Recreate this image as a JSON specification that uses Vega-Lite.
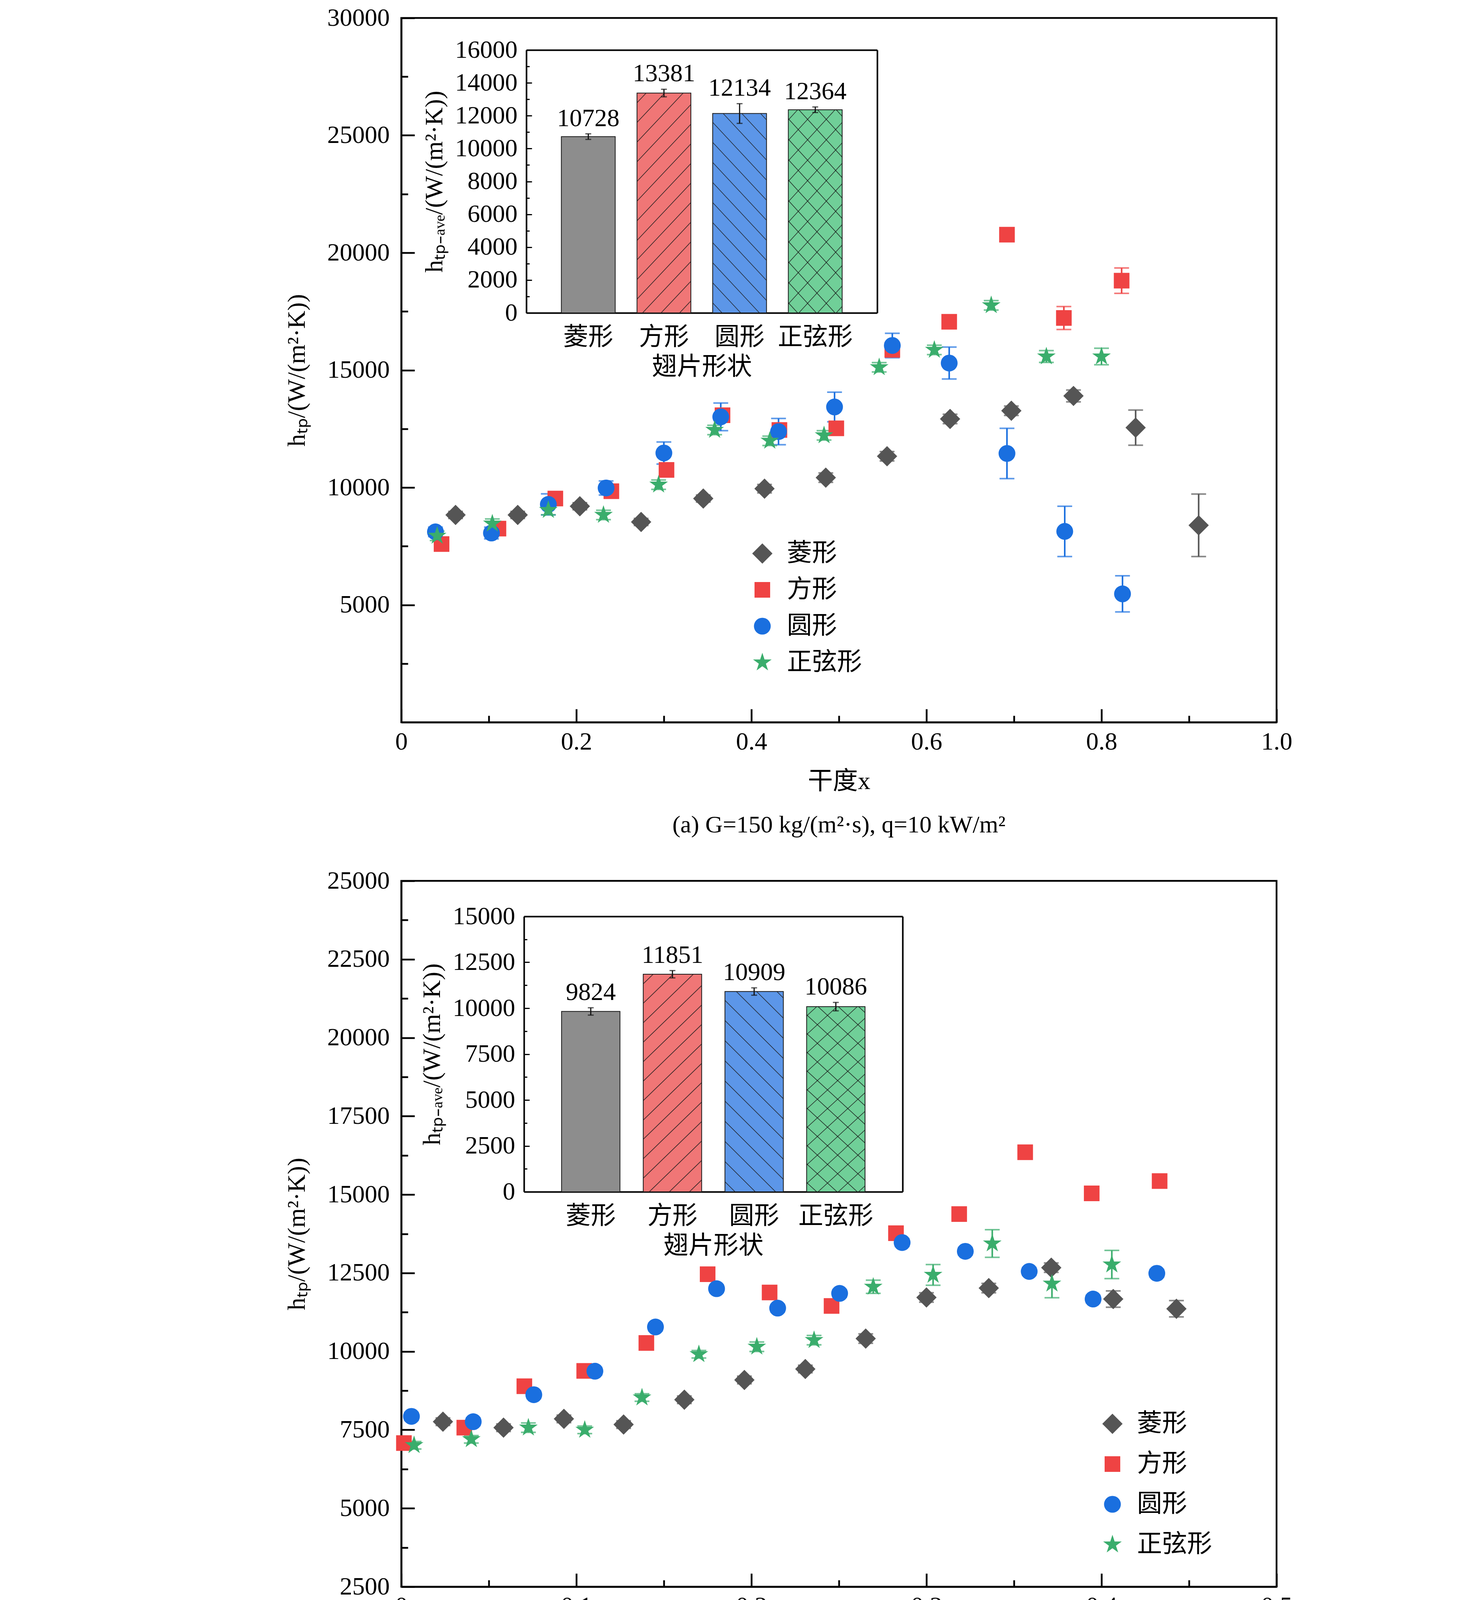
{
"$schema": "https://vega.github.io/schema/vega-lite/v6.json",
"padding": {"left": 725, "top": 11, "right": 20, "bottom": 20},
"background": "white",
"datasets": {
"pa": [
{"s":"菱形","x":0.062,"y":8830,"e":150},{"s":"菱形","x":0.133,"y":8830,"e":150},{"s":"菱形","x":0.204,"y":9200,"e":150},{"s":"菱形","x":0.274,"y":8530,"e":150},{"s":"菱形","x":0.345,"y":9530,"e":150},{"s":"菱形","x":0.415,"y":9950,"e":180},{"s":"菱形","x":0.485,"y":10420,"e":200},{"s":"菱形","x":0.555,"y":11330,"e":200},{"s":"菱形","x":0.627,"y":12920,"e":200},{"s":"菱形","x":0.697,"y":13270,"e":200},{"s":"菱形","x":0.768,"y":13900,"e":250},{"s":"菱形","x":0.839,"y":12550,"e":750},{"s":"菱形","x":0.911,"y":8390,"e":1330},
{"s":"方形","x":0.046,"y":7590,"e":150},{"s":"方形","x":0.111,"y":8250,"e":200},{"s":"方形","x":0.176,"y":9530,"e":200},{"s":"方形","x":0.240,"y":9840,"e":200},{"s":"方形","x":0.303,"y":10750,"e":200},{"s":"方形","x":0.367,"y":13080,"e":250},{"s":"方形","x":0.432,"y":12450,"e":250},{"s":"方形","x":0.497,"y":12520,"e":200},{"s":"方形","x":0.561,"y":15860,"e":250},{"s":"方形","x":0.626,"y":17060,"e":250},{"s":"方形","x":0.692,"y":20770,"e":250},{"s":"方形","x":0.757,"y":17220,"e":490},{"s":"方形","x":0.823,"y":18810,"e":540},
{"s":"圆形","x":0.039,"y":8110,"e":200},{"s":"圆形","x":0.103,"y":8060,"e":250},{"s":"圆形","x":0.168,"y":9280,"e":450},{"s":"圆形","x":0.234,"y":9980,"e":300},{"s":"圆形","x":0.300,"y":11470,"e":470},{"s":"圆形","x":0.365,"y":13010,"e":590},{"s":"圆形","x":0.431,"y":12380,"e":560},{"s":"圆形","x":0.495,"y":13430,"e":630},{"s":"圆形","x":0.561,"y":16050,"e":520},{"s":"圆形","x":0.626,"y":15300,"e":680},{"s":"圆形","x":0.692,"y":11450,"e":1070},{"s":"圆形","x":0.758,"y":8130,"e":1070},{"s":"圆形","x":0.824,"y":5470,"e":770},
{"s":"正弦形","x":0.041,"y":7940,"e":200},{"s":"正弦形","x":0.104,"y":8460,"e":200},{"s":"正弦形","x":0.168,"y":9040,"e":200},{"s":"正弦形","x":0.231,"y":8830,"e":200},{"s":"正弦形","x":0.294,"y":10120,"e":200},{"s":"正弦形","x":0.358,"y":12450,"e":200},{"s":"正弦形","x":0.421,"y":11990,"e":200},{"s":"正弦形","x":0.483,"y":12220,"e":200},{"s":"正弦形","x":0.546,"y":15120,"e":200},{"s":"正弦形","x":0.609,"y":15860,"e":200},{"s":"正弦形","x":0.674,"y":17760,"e":200},{"s":"正弦形","x":0.737,"y":15580,"e":250},{"s":"正弦形","x":0.800,"y":15580,"e":350}
],
"pb": [
{"s":"菱形","x":0.0238,"y":7760,"e":120},{"s":"菱形","x":0.0584,"y":7570,"e":120},{"s":"菱形","x":0.0929,"y":7850,"e":120},{"s":"菱形","x":0.127,"y":7670,"e":120},{"s":"菱形","x":0.1617,"y":8460,"e":120},{"s":"菱形","x":0.196,"y":9090,"e":120},{"s":"菱形","x":0.2308,"y":9440,"e":120},{"s":"菱形","x":0.2653,"y":10410,"e":150},{"s":"菱形","x":0.300,"y":11720,"e":150},{"s":"菱形","x":0.3356,"y":12020,"e":150},{"s":"菱形","x":0.3713,"y":12670,"e":150},{"s":"菱形","x":0.4067,"y":11670,"e":260},{"s":"菱形","x":0.4428,"y":11360,"e":260},
{"s":"方形","x":0.0015,"y":7080,"e":120},{"s":"方形","x":0.036,"y":7570,"e":120},{"s":"方形","x":0.0703,"y":8890,"e":120},{"s":"方形","x":0.1045,"y":9380,"e":120},{"s":"方形","x":0.140,"y":10270,"e":120},{"s":"方形","x":0.175,"y":12460,"e":120},{"s":"方形","x":0.2104,"y":11880,"e":120},{"s":"方形","x":0.2458,"y":11450,"e":120},{"s":"方形","x":0.2826,"y":13770,"e":120},{"s":"方形","x":0.3187,"y":14380,"e":150},{"s":"方形","x":0.3564,"y":16350,"e":150},{"s":"方形","x":0.3944,"y":15040,"e":150},{"s":"方形","x":0.4332,"y":15430,"e":150},
{"s":"圆形","x":0.0058,"y":7930,"e":120},{"s":"圆形","x":0.0411,"y":7760,"e":120},{"s":"圆形","x":0.0757,"y":8620,"e":120},{"s":"圆形","x":0.1106,"y":9370,"e":120},{"s":"圆形","x":0.1452,"y":10780,"e":120},{"s":"圆形","x":0.1801,"y":12000,"e":120},{"s":"圆形","x":0.215,"y":11380,"e":120},{"s":"圆形","x":0.2504,"y":11850,"e":120},{"s":"圆形","x":0.2861,"y":13470,"e":120},{"s":"圆形","x":0.3222,"y":13190,"e":120},{"s":"圆形","x":0.3587,"y":12550,"e":120},{"s":"圆形","x":0.3952,"y":11670,"e":120},{"s":"圆形","x":0.4316,"y":12490,"e":120},
{"s":"正弦形","x":0.0073,"y":7010,"e":120},{"s":"正弦形","x":0.040,"y":7200,"e":120},{"s":"正弦形","x":0.0726,"y":7570,"e":150},{"s":"正弦形","x":0.1048,"y":7500,"e":120},{"s":"正弦形","x":0.1375,"y":8530,"e":120},{"s":"正弦形","x":0.170,"y":9910,"e":120},{"s":"正弦形","x":0.2031,"y":10150,"e":150},{"s":"正弦形","x":0.2358,"y":10360,"e":150},{"s":"正弦形","x":0.2696,"y":12060,"e":210},{"s":"正弦形","x":0.3038,"y":12440,"e":330},{"s":"正弦形","x":0.3376,"y":13440,"e":440},{"s":"正弦形","x":0.3717,"y":12160,"e":450},{"s":"正弦形","x":0.4059,"y":12770,"e":450}
],
"pc": [
{"s":"菱形","x":0.040,"y":10440,"e":600},{"s":"菱形","x":0.121,"y":10790,"e":940},{"s":"菱形","x":0.201,"y":11100,"e":1240},{"s":"菱形","x":0.283,"y":11450,"e":1490},{"s":"菱形","x":0.363,"y":13740,"e":2120},{"s":"菱形","x":0.445,"y":14690,"e":2690},{"s":"菱形","x":0.527,"y":16450,"e":2090},{"s":"菱形","x":0.608,"y":17270,"e":2030},{"s":"菱形","x":0.691,"y":18840,"e":1950},{"s":"菱形","x":0.773,"y":20000,"e":2010},{"s":"菱形","x":0.854,"y":24090,"e":2630},{"s":"菱形","x":0.939,"y":24340,"e":3950},
{"s":"方形","x":0.023,"y":10130,"e":300},{"s":"方形","x":0.104,"y":12860,"e":1780},{"s":"方形","x":0.184,"y":13620,"e":2170},{"s":"方形","x":0.264,"y":14560,"e":1870},{"s":"方形","x":0.345,"y":15600,"e":1840},{"s":"方形","x":0.427,"y":17550,"e":1700},{"s":"方形","x":0.511,"y":17360,"e":1040},{"s":"方形","x":0.595,"y":17520,"e":250},{"s":"方形","x":0.681,"y":19850,"e":300},{"s":"方形","x":0.768,"y":22420,"e":300},{"s":"方形","x":0.858,"y":24090,"e":470},{"s":"方形","x":0.953,"y":32240,"e":2400},
{"s":"圆形","x":0.062,"y":10570,"e":630},{"s":"圆形","x":0.144,"y":10220,"e":600},{"s":"圆形","x":0.224,"y":11320,"e":740},{"s":"圆形","x":0.305,"y":12360,"e":1070},{"s":"圆形","x":0.386,"y":14810,"e":1380},{"s":"圆形","x":0.468,"y":15320,"e":1380},{"s":"圆形","x":0.550,"y":16070,"e":1560},{"s":"圆形","x":0.633,"y":17300,"e":1980},{"s":"圆形","x":0.717,"y":20320,"e":2480},{"s":"圆形","x":0.802,"y":22580,"e":2610},{"s":"圆形","x":0.887,"y":22640,"e":1230},{"s":"圆形","x":0.973,"y":22580,"e":5020},
{"s":"正弦形","x":0.045,"y":11010,"e":300},{"s":"正弦形","x":0.125,"y":11290,"e":380},{"s":"正弦形","x":0.207,"y":11790,"e":380},{"s":"正弦形","x":0.288,"y":12010,"e":440},{"s":"正弦形","x":0.369,"y":14220,"e":470},{"s":"正弦形","x":0.451,"y":16790,"e":470},{"s":"正弦形","x":0.533,"y":18120,"e":380},{"s":"正弦形","x":0.615,"y":19970,"e":300},{"s":"正弦形","x":0.699,"y":23270,"e":720},{"s":"正弦形","x":0.783,"y":24440,"e":1120},{"s":"正弦形","x":0.868,"y":28210,"e":1370},{"s":"正弦形","x":0.954,"y":25250,"e":2770}
],
"ia": [{"s":"菱形","v":10728,"lo":10558,"hi":10898},{"s":"方形","v":13381,"lo":13151,"hi":13611},{"s":"圆形","v":12134,"lo":11534,"hi":12734},{"s":"正弦形","v":12364,"lo":12194,"hi":12534}],
"ib": [{"s":"菱形","v":9824,"lo":9624,"hi":10024},{"s":"方形","v":11851,"lo":11651,"hi":12051},{"s":"圆形","v":10909,"lo":10709,"hi":11109},{"s":"正弦形","v":10086,"lo":9856,"hi":10316}],
"ic": [{"s":"菱形","v":15532,"lo":13202,"hi":17862},{"s":"方形","v":19370,"lo":18150,"hi":20590},{"s":"圆形","v":15765,"lo":13675,"hi":17855},{"s":"正弦形","v":16896,"lo":16216,"hi":17576}]
},
"vconcat": [
{
"width": 2240, "height": 1803,
"title": {"text": "(a) G=150 kg/(m²·s), q=10 kW/m²", "orient": "bottom", "anchor": "middle", "frame": "group", "offset": 50},
"layer": [
{"data": {"name": "pa"},
"layer": [
{"mark": {"type": "errorbar", "ticks": true, "size": 38, "thickness": 4},
"encoding": {
"x": {"field": "x", "type": "quantitative", "scale": {"domain": [0, 1], "nice": false}, "axis": {"orient": "bottom", "values": [0.1,0.3,0.5,0.7,0.9], "tickSize": -17, "labels": false, "domain": false, "title": null}},
"y": {"field": "y", "type": "quantitative", "scale": {"domain": [0, 30000], "nice": false, "zero": false}, "axis": {"orient": "left", "values": [2500,7500,12500,17500,22500,27500], "tickSize": -17, "labels": false, "domain": false, "title": null}},
"yError": {"field": "e"},
"color": {"field": "s", "type": "nominal", "scale": {"domain": ["菱形","方形","圆形","正弦形"], "range": ["#555555","#ef4343","#1a6fdf","#3aad6c"]}, "legend": null}}},
{"mark": {"type": "point", "filled": true, "opacity": 1},
"encoding": {
"x": {"field": "x", "type": "quantitative", "scale": {"domain": [0, 1], "nice": false}, "axis": {"orient": "bottom", "values": [0,0.2,0.4,0.6,0.8,1], "tickSize": -34, "labelPadding": 52, "labelExpr": "datum.value == 0 ? '0' : format(datum.value, '.1f')", "title": "干度x", "titlePadding": 37}},
"y": {"field": "y", "type": "quantitative", "scale": {"domain": [0, 30000], "nice": false, "zero": false}, "axis": {"orient": "left", "values": [5000,10000,15000,20000,25000,30000], "format": "d", "tickSize": -34, "labelPadding": 64, "title": "hₜₚ/(W/(m²·K))", "titlePadding": 45}},
"color": {"field": "s", "type": "nominal", "scale": {"domain": ["菱形","方形","圆形","正弦形"], "range": ["#555555","#ef4343","#1a6fdf","#3aad6c"]}, "legend": {"orient": "none", "legendX": 892, "legendY": 1339, "title": null, "rowPadding": 29}},
"shape": {"field": "s", "type": "nominal", "scale": {"domain": ["菱形","方形","圆形","正弦形"], "range": ["diamond","square","circle","M0,-1L0.225,-0.309L0.951,-0.309L0.363,0.118L0.588,0.809L0,0.382L-0.588,0.809L-0.363,0.118L-0.951,-0.309L-0.225,-0.309Z"]}, "legend": {"orient": "none", "legendX": 892, "legendY": 1339, "title": null, "rowPadding": 29}},
"size": {"field": "s", "type": "nominal", "scale": {"type": "ordinal", "domain": ["菱形","方形","圆形","正弦形"], "range": [2700,1600,1850,2500]}, "legend": {"orient": "none", "legendX": 892, "legendY": 1339, "title": null, "rowPadding": 29}}}}
],
"resolve": {"axis": {"x": "independent", "y": "independent"}, "scale": {"color": "independent", "shape": "independent", "size": "independent"}}},
{"data": {"name": "ia"},
"layer": [
{"transform": [{"filter": "datum.s == '菱形'"}],
"mark": {"type": "bar", "fill": "#8d8d8d", "stroke": "#1a1a1a", "strokeWidth": 2},
"encoding": {
"x": {"field": "s", "type": "nominal", "sort": null, "scale": {"domain": ["菱形","方形","圆形","正弦形"], "range": [320,1218], "paddingInner": 0.288, "paddingOuter": 0.463}, "axis": {"orient": "bottom", "offset": -1048, "ticks": false, "labelPadding": 30, "labelAngle": 0, "title": "翅片形状", "titlePadding": 12, "domainWidth": 4}},
"y": {"field": "v", "type": "quantitative", "scale": {"domain": [0, 16000], "range": [755, 82], "nice": false}, "axis": {"orient": "left", "offset": -320, "values": [0,2000,4000,6000,8000,10000,12000,14000,16000], "format": "d", "tickSize": -14, "tickWidth": 3, "labelPadding": 37, "title": "hₜₚ₋ₐᵥₑ/(W/(m²·K))", "titlePadding": 20, "domainWidth": 4}}}},
{"transform": [{"filter": "datum.s == '方形'"}],
"mark": {"type": "bar", "stroke": "#1a1a1a", "strokeWidth": 2, "fill": {"gradient": "linear", "x1": 0, "y1": 0, "x2": 0.307, "y2": 1.18, "stops": [{"offset":0,"color":"#f07676"},{"offset":0.032,"color":"#f07676"},{"offset":0.035,"color":"#1a1a1a"},{"offset":0.038,"color":"#f07676"},{"offset":0.103,"color":"#f07676"},{"offset":0.106,"color":"#1a1a1a"},{"offset":0.109,"color":"#f07676"},{"offset":0.174,"color":"#f07676"},{"offset":0.177,"color":"#1a1a1a"},{"offset":0.180,"color":"#f07676"},{"offset":0.245,"color":"#f07676"},{"offset":0.248,"color":"#1a1a1a"},{"offset":0.251,"color":"#f07676"},{"offset":0.316,"color":"#f07676"},{"offset":0.319,"color":"#1a1a1a"},{"offset":0.322,"color":"#f07676"},{"offset":0.387,"color":"#f07676"},{"offset":0.390,"color":"#1a1a1a"},{"offset":0.393,"color":"#f07676"},{"offset":0.458,"color":"#f07676"},{"offset":0.461,"color":"#1a1a1a"},{"offset":0.464,"color":"#f07676"},{"offset":0.529,"color":"#f07676"},{"offset":0.532,"color":"#1a1a1a"},{"offset":0.535,"color":"#f07676"},{"offset":0.599,"color":"#f07676"},{"offset":0.602,"color":"#1a1a1a"},{"offset":0.605,"color":"#f07676"},{"offset":0.670,"color":"#f07676"},{"offset":0.673,"color":"#1a1a1a"},{"offset":0.676,"color":"#f07676"},{"offset":0.741,"color":"#f07676"},{"offset":0.744,"color":"#1a1a1a"},{"offset":0.747,"color":"#f07676"},{"offset":0.812,"color":"#f07676"},{"offset":0.815,"color":"#1a1a1a"},{"offset":0.818,"color":"#f07676"},{"offset":0.883,"color":"#f07676"},{"offset":0.886,"color":"#1a1a1a"},{"offset":0.889,"color":"#f07676"},{"offset":0.954,"color":"#f07676"},{"offset":0.957,"color":"#1a1a1a"},{"offset":0.960,"color":"#f07676"},{"offset":1,"color":"#f07676"}]}},
"encoding": {
"x": {"field": "s", "type": "nominal", "sort": null, "scale": {"domain": ["菱形","方形","圆形","正弦形"], "range": [320,1218], "paddingInner": 0.288, "paddingOuter": 0.463}, "axis": null},
"y": {"field": "v", "type": "quantitative", "scale": {"domain": [0, 16000], "range": [755, 82], "nice": false}, "axis": null}}},
{"transform": [{"filter": "datum.s == '圆形'"}],
"mark": {"type": "bar", "stroke": "#1a1a1a", "strokeWidth": 2, "fill": {"gradient": "linear", "x1": 0, "y1": 1, "x2": 0.345, "y2": -0.19, "stops": [{"offset":0,"color":"#5c96e8"},{"offset":0.036,"color":"#5c96e8"},{"offset":0.039,"color":"#1a1a1a"},{"offset":0.042,"color":"#5c96e8"},{"offset":0.114,"color":"#5c96e8"},{"offset":0.117,"color":"#1a1a1a"},{"offset":0.120,"color":"#5c96e8"},{"offset":0.192,"color":"#5c96e8"},{"offset":0.195,"color":"#1a1a1a"},{"offset":0.198,"color":"#5c96e8"},{"offset":0.270,"color":"#5c96e8"},{"offset":0.273,"color":"#1a1a1a"},{"offset":0.276,"color":"#5c96e8"},{"offset":0.348,"color":"#5c96e8"},{"offset":0.351,"color":"#1a1a1a"},{"offset":0.354,"color":"#5c96e8"},{"offset":0.426,"color":"#5c96e8"},{"offset":0.429,"color":"#1a1a1a"},{"offset":0.432,"color":"#5c96e8"},{"offset":0.504,"color":"#5c96e8"},{"offset":0.507,"color":"#1a1a1a"},{"offset":0.510,"color":"#5c96e8"},{"offset":0.582,"color":"#5c96e8"},{"offset":0.585,"color":"#1a1a1a"},{"offset":0.588,"color":"#5c96e8"},{"offset":0.660,"color":"#5c96e8"},{"offset":0.663,"color":"#1a1a1a"},{"offset":0.666,"color":"#5c96e8"},{"offset":0.738,"color":"#5c96e8"},{"offset":0.741,"color":"#1a1a1a"},{"offset":0.744,"color":"#5c96e8"},{"offset":0.816,"color":"#5c96e8"},{"offset":0.819,"color":"#1a1a1a"},{"offset":0.822,"color":"#5c96e8"},{"offset":0.894,"color":"#5c96e8"},{"offset":0.897,"color":"#1a1a1a"},{"offset":0.900,"color":"#5c96e8"},{"offset":0.972,"color":"#5c96e8"},{"offset":0.975,"color":"#1a1a1a"},{"offset":0.978,"color":"#5c96e8"},{"offset":1,"color":"#5c96e8"}]}},
"encoding": {
"x": {"field": "s", "type": "nominal", "sort": null, "scale": {"domain": ["菱形","方形","圆形","正弦形"], "range": [320,1218], "paddingInner": 0.288, "paddingOuter": 0.463}, "axis": null},
"y": {"field": "v", "type": "quantitative", "scale": {"domain": [0, 16000], "range": [755, 82], "nice": false}, "axis": null}}},
{"transform": [{"filter": "datum.s == '正弦形'"}],
"mark": {"type": "bar", "stroke": "#1a1a1a", "strokeWidth": 2, "fill": {"gradient": "linear", "x1": 0, "y1": 0, "x2": 0.345, "y2": 1.19, "stops": [{"offset":0,"color":"#70cf98"},{"offset":0.036,"color":"#70cf98"},{"offset":0.039,"color":"#1a1a1a"},{"offset":0.042,"color":"#70cf98"},{"offset":0.114,"color":"#70cf98"},{"offset":0.117,"color":"#1a1a1a"},{"offset":0.120,"color":"#70cf98"},{"offset":0.192,"color":"#70cf98"},{"offset":0.195,"color":"#1a1a1a"},{"offset":0.198,"color":"#70cf98"},{"offset":0.270,"color":"#70cf98"},{"offset":0.273,"color":"#1a1a1a"},{"offset":0.276,"color":"#70cf98"},{"offset":0.348,"color":"#70cf98"},{"offset":0.351,"color":"#1a1a1a"},{"offset":0.354,"color":"#70cf98"},{"offset":0.426,"color":"#70cf98"},{"offset":0.429,"color":"#1a1a1a"},{"offset":0.432,"color":"#70cf98"},{"offset":0.504,"color":"#70cf98"},{"offset":0.507,"color":"#1a1a1a"},{"offset":0.510,"color":"#70cf98"},{"offset":0.582,"color":"#70cf98"},{"offset":0.585,"color":"#1a1a1a"},{"offset":0.588,"color":"#70cf98"},{"offset":0.660,"color":"#70cf98"},{"offset":0.663,"color":"#1a1a1a"},{"offset":0.666,"color":"#70cf98"},{"offset":0.738,"color":"#70cf98"},{"offset":0.741,"color":"#1a1a1a"},{"offset":0.744,"color":"#70cf98"},{"offset":0.816,"color":"#70cf98"},{"offset":0.819,"color":"#1a1a1a"},{"offset":0.822,"color":"#70cf98"},{"offset":0.894,"color":"#70cf98"},{"offset":0.897,"color":"#1a1a1a"},{"offset":0.900,"color":"#70cf98"},{"offset":0.972,"color":"#70cf98"},{"offset":0.975,"color":"#1a1a1a"},{"offset":0.978,"color":"#70cf98"},{"offset":1,"color":"#70cf98"}]}},
"encoding": {
"x": {"field": "s", "type": "nominal", "sort": null, "scale": {"domain": ["菱形","方形","圆形","正弦形"], "range": [320,1218], "paddingInner": 0.288, "paddingOuter": 0.463}, "axis": null},
"y": {"field": "v", "type": "quantitative", "scale": {"domain": [0, 16000], "range": [755, 82], "nice": false}, "axis": null}}},
{"transform": [{"filter": "datum.s == '正弦形'"}],
"mark": {"type": "bar", "strokeWidth": 0, "fill": {"gradient": "linear", "x1": 0, "y1": 1, "x2": 0.345, "y2": -0.19, "stops": [{"offset":0,"color":"rgba(0,0,0,0)"},{"offset":0.036,"color":"rgba(0,0,0,0)"},{"offset":0.039,"color":"#1a1a1a"},{"offset":0.042,"color":"rgba(0,0,0,0)"},{"offset":0.114,"color":"rgba(0,0,0,0)"},{"offset":0.117,"color":"#1a1a1a"},{"offset":0.120,"color":"rgba(0,0,0,0)"},{"offset":0.192,"color":"rgba(0,0,0,0)"},{"offset":0.195,"color":"#1a1a1a"},{"offset":0.198,"color":"rgba(0,0,0,0)"},{"offset":0.270,"color":"rgba(0,0,0,0)"},{"offset":0.273,"color":"#1a1a1a"},{"offset":0.276,"color":"rgba(0,0,0,0)"},{"offset":0.348,"color":"rgba(0,0,0,0)"},{"offset":0.351,"color":"#1a1a1a"},{"offset":0.354,"color":"rgba(0,0,0,0)"},{"offset":0.426,"color":"rgba(0,0,0,0)"},{"offset":0.429,"color":"#1a1a1a"},{"offset":0.432,"color":"rgba(0,0,0,0)"},{"offset":0.504,"color":"rgba(0,0,0,0)"},{"offset":0.507,"color":"#1a1a1a"},{"offset":0.510,"color":"rgba(0,0,0,0)"},{"offset":0.582,"color":"rgba(0,0,0,0)"},{"offset":0.585,"color":"#1a1a1a"},{"offset":0.588,"color":"rgba(0,0,0,0)"},{"offset":0.660,"color":"rgba(0,0,0,0)"},{"offset":0.663,"color":"#1a1a1a"},{"offset":0.666,"color":"rgba(0,0,0,0)"},{"offset":0.738,"color":"rgba(0,0,0,0)"},{"offset":0.741,"color":"#1a1a1a"},{"offset":0.744,"color":"rgba(0,0,0,0)"},{"offset":0.816,"color":"rgba(0,0,0,0)"},{"offset":0.819,"color":"#1a1a1a"},{"offset":0.822,"color":"rgba(0,0,0,0)"},{"offset":0.894,"color":"rgba(0,0,0,0)"},{"offset":0.897,"color":"#1a1a1a"},{"offset":0.900,"color":"rgba(0,0,0,0)"},{"offset":0.972,"color":"rgba(0,0,0,0)"},{"offset":0.975,"color":"#1a1a1a"},{"offset":0.978,"color":"rgba(0,0,0,0)"},{"offset":1,"color":"rgba(0,0,0,0)"}]}},
"encoding": {
"x": {"field": "s", "type": "nominal", "sort": null, "scale": {"domain": ["菱形","方形","圆形","正弦形"], "range": [320,1218], "paddingInner": 0.288, "paddingOuter": 0.463}, "axis": null},
"y": {"field": "v", "type": "quantitative", "scale": {"domain": [0, 16000], "range": [755, 82], "nice": false}, "axis": null}}},
{"mark": {"type": "errorbar", "ticks": true, "size": 15, "thickness": 3, "color": "#111111"},
"encoding": {
"x": {"field": "s", "type": "nominal", "sort": null, "scale": {"domain": ["菱形","方形","圆形","正弦形"], "range": [320,1218], "paddingInner": 0.288, "paddingOuter": 0.463}, "axis": {"orient": "top", "offset": -82, "ticks": false, "labels": false, "title": null, "domainWidth": 4}},
"y": {"field": "lo", "type": "quantitative", "scale": {"domain": [0, 16000], "range": [755, 82], "nice": false}, "axis": {"orient": "right", "offset": -1022, "ticks": false, "labels": false, "title": null, "domainWidth": 4}},
"y2": {"field": "hi"}}},
{"mark": {"type": "text", "dy": -20, "fontSize": 64, "baseline": "alphabetic", "color": "black", "font": "Liberation Serif"},
"encoding": {
"x": {"field": "s", "type": "nominal", "sort": null, "scale": {"domain": ["菱形","方形","圆形","正弦形"], "range": [320,1218], "paddingInner": 0.288, "paddingOuter": 0.463}, "axis": null},
"y": {"field": "hi", "type": "quantitative", "scale": {"domain": [0, 16000], "range": [755, 82], "nice": false}, "axis": {"orient": "left", "offset": -320, "values": [1000,3000,5000,7000,9000,11000,13000,15000], "tickSize": -8, "tickWidth": 3, "labels": false, "domain": false, "title": null}},
"text": {"field": "v", "type": "quantitative", "format": "d"}}}
],
"resolve": {"axis": {"x": "independent", "y": "independent"}}}
],
"resolve": {"scale": {"x": "independent", "y": "independent"}}
},
{
"width": 2240, "height": 1807,
"title": {"text": "(b) G=300 kg/(m²·s), q=10 kW/m²", "orient": "bottom", "anchor": "middle", "frame": "group", "offset": 50},
"layer": [
{"data": {"name": "pb"},
"layer": [
{"mark": {"type": "errorbar", "ticks": true, "size": 38, "thickness": 4},
"encoding": {
"x": {"field": "x", "type": "quantitative", "scale": {"domain": [0, 0.5], "nice": false}, "axis": {"orient": "bottom", "values": [0.05,0.15,0.25,0.35,0.45], "tickSize": -17, "labels": false, "domain": false, "title": null}},
"y": {"field": "y", "type": "quantitative", "scale": {"domain": [2500, 25000], "nice": false, "zero": false}, "axis": {"orient": "left", "values": [3750,6250,8750,11250,13750,16250,18750,21250,23750], "tickSize": -17, "labels": false, "domain": false, "title": null}},
"yError": {"field": "e"},
"color": {"field": "s", "type": "nominal", "scale": {"domain": ["菱形","方形","圆形","正弦形"], "range": ["#555555","#ef4343","#1a6fdf","#3aad6c"]}, "legend": null}}},
{"mark": {"type": "point", "filled": true, "opacity": 1},
"encoding": {
"x": {"field": "x", "type": "quantitative", "scale": {"domain": [0, 0.5], "nice": false}, "axis": {"orient": "bottom", "values": [0,0.1,0.2,0.3,0.4,0.5], "tickSize": -34, "labelPadding": 52, "labelExpr": "datum.value == 0 ? '0' : format(datum.value, '.1f')", "title": "干度x", "titlePadding": 37}},
"y": {"field": "y", "type": "quantitative", "scale": {"domain": [2500, 25000], "nice": false, "zero": false}, "axis": {"orient": "left", "values": [2500,5000,7500,10000,12500,15000,17500,20000,22500,25000], "format": "d", "tickSize": -34, "labelPadding": 64, "title": "hₜₚ/(W/(m²·K))", "titlePadding": 45}},
"color": {"field": "s", "type": "nominal", "scale": {"domain": ["菱形","方形","圆形","正弦形"], "range": ["#555555","#ef4343","#1a6fdf","#3aad6c"]}, "legend": {"orient": "none", "legendX": 1788, "legendY": 1358, "title": null, "rowPadding": 39}},
"shape": {"field": "s", "type": "nominal", "scale": {"domain": ["菱形","方形","圆形","正弦形"], "range": ["diamond","square","circle","M0,-1L0.225,-0.309L0.951,-0.309L0.363,0.118L0.588,0.809L0,0.382L-0.588,0.809L-0.363,0.118L-0.951,-0.309L-0.225,-0.309Z"]}, "legend": {"orient": "none", "legendX": 1788, "legendY": 1358, "title": null, "rowPadding": 39}},
"size": {"field": "s", "type": "nominal", "scale": {"type": "ordinal", "domain": ["菱形","方形","圆形","正弦形"], "range": [2700,1600,1850,2500]}, "legend": {"orient": "none", "legendX": 1788, "legendY": 1358, "title": null, "rowPadding": 39}}}}
],
"resolve": {"axis": {"x": "independent", "y": "independent"}, "scale": {"color": "independent", "shape": "independent", "size": "independent"}}},
{"data": {"name": "ib"},
"layer": [
{"transform": [{"filter": "datum.s == '菱形'"}],
"mark": {"type": "bar", "fill": "#8d8d8d", "stroke": "#1a1a1a", "strokeWidth": 2},
"encoding": {
"x": {"field": "s", "type": "nominal", "sort": null, "scale": {"domain": ["菱形","方形","圆形","正弦形"], "range": [314,1283], "paddingInner": 0.285, "paddingOuter": 0.46}, "axis": {"orient": "bottom", "offset": -1011, "ticks": false, "labelPadding": 30, "labelAngle": 0, "title": "翅片形状", "titlePadding": 12, "domainWidth": 4}},
"y": {"field": "v", "type": "quantitative", "scale": {"domain": [0, 15000], "range": [796, 91], "nice": false}, "axis": {"orient": "left", "offset": -314, "values": [0,2500,5000,7500,10000,12500,15000], "format": "d", "tickSize": -14, "tickWidth": 3, "labelPadding": 37, "title": "hₜₚ₋ₐᵥₑ/(W/(m²·K))", "titlePadding": 20, "domainWidth": 4}}}},
{"transform": [{"filter": "datum.s == '方形'"}],
"mark": {"type": "bar", "stroke": "#1a1a1a", "strokeWidth": 2, "fill": {"gradient": "linear", "x1": 0, "y1": 0, "x2": 0.307, "y2": 1.18, "stops": [{"offset":0,"color":"#f07676"},{"offset":0.032,"color":"#f07676"},{"offset":0.035,"color":"#1a1a1a"},{"offset":0.038,"color":"#f07676"},{"offset":0.103,"color":"#f07676"},{"offset":0.106,"color":"#1a1a1a"},{"offset":0.109,"color":"#f07676"},{"offset":0.174,"color":"#f07676"},{"offset":0.177,"color":"#1a1a1a"},{"offset":0.180,"color":"#f07676"},{"offset":0.245,"color":"#f07676"},{"offset":0.248,"color":"#1a1a1a"},{"offset":0.251,"color":"#f07676"},{"offset":0.316,"color":"#f07676"},{"offset":0.319,"color":"#1a1a1a"},{"offset":0.322,"color":"#f07676"},{"offset":0.387,"color":"#f07676"},{"offset":0.390,"color":"#1a1a1a"},{"offset":0.393,"color":"#f07676"},{"offset":0.458,"color":"#f07676"},{"offset":0.461,"color":"#1a1a1a"},{"offset":0.464,"color":"#f07676"},{"offset":0.529,"color":"#f07676"},{"offset":0.532,"color":"#1a1a1a"},{"offset":0.535,"color":"#f07676"},{"offset":0.599,"color":"#f07676"},{"offset":0.602,"color":"#1a1a1a"},{"offset":0.605,"color":"#f07676"},{"offset":0.670,"color":"#f07676"},{"offset":0.673,"color":"#1a1a1a"},{"offset":0.676,"color":"#f07676"},{"offset":0.741,"color":"#f07676"},{"offset":0.744,"color":"#1a1a1a"},{"offset":0.747,"color":"#f07676"},{"offset":0.812,"color":"#f07676"},{"offset":0.815,"color":"#1a1a1a"},{"offset":0.818,"color":"#f07676"},{"offset":0.883,"color":"#f07676"},{"offset":0.886,"color":"#1a1a1a"},{"offset":0.889,"color":"#f07676"},{"offset":0.954,"color":"#f07676"},{"offset":0.957,"color":"#1a1a1a"},{"offset":0.960,"color":"#f07676"},{"offset":1,"color":"#f07676"}]}},
"encoding": {
"x": {"field": "s", "type": "nominal", "sort": null, "scale": {"domain": ["菱形","方形","圆形","正弦形"], "range": [314,1283], "paddingInner": 0.285, "paddingOuter": 0.46}, "axis": null},
"y": {"field": "v", "type": "quantitative", "scale": {"domain": [0, 15000], "range": [796, 91], "nice": false}, "axis": null}}},
{"transform": [{"filter": "datum.s == '圆形'"}],
"mark": {"type": "bar", "stroke": "#1a1a1a", "strokeWidth": 2, "fill": {"gradient": "linear", "x1": 0, "y1": 1, "x2": 0.345, "y2": -0.19, "stops": [{"offset":0,"color":"#5c96e8"},{"offset":0.036,"color":"#5c96e8"},{"offset":0.039,"color":"#1a1a1a"},{"offset":0.042,"color":"#5c96e8"},{"offset":0.114,"color":"#5c96e8"},{"offset":0.117,"color":"#1a1a1a"},{"offset":0.120,"color":"#5c96e8"},{"offset":0.192,"color":"#5c96e8"},{"offset":0.195,"color":"#1a1a1a"},{"offset":0.198,"color":"#5c96e8"},{"offset":0.270,"color":"#5c96e8"},{"offset":0.273,"color":"#1a1a1a"},{"offset":0.276,"color":"#5c96e8"},{"offset":0.348,"color":"#5c96e8"},{"offset":0.351,"color":"#1a1a1a"},{"offset":0.354,"color":"#5c96e8"},{"offset":0.426,"color":"#5c96e8"},{"offset":0.429,"color":"#1a1a1a"},{"offset":0.432,"color":"#5c96e8"},{"offset":0.504,"color":"#5c96e8"},{"offset":0.507,"color":"#1a1a1a"},{"offset":0.510,"color":"#5c96e8"},{"offset":0.582,"color":"#5c96e8"},{"offset":0.585,"color":"#1a1a1a"},{"offset":0.588,"color":"#5c96e8"},{"offset":0.660,"color":"#5c96e8"},{"offset":0.663,"color":"#1a1a1a"},{"offset":0.666,"color":"#5c96e8"},{"offset":0.738,"color":"#5c96e8"},{"offset":0.741,"color":"#1a1a1a"},{"offset":0.744,"color":"#5c96e8"},{"offset":0.816,"color":"#5c96e8"},{"offset":0.819,"color":"#1a1a1a"},{"offset":0.822,"color":"#5c96e8"},{"offset":0.894,"color":"#5c96e8"},{"offset":0.897,"color":"#1a1a1a"},{"offset":0.900,"color":"#5c96e8"},{"offset":0.972,"color":"#5c96e8"},{"offset":0.975,"color":"#1a1a1a"},{"offset":0.978,"color":"#5c96e8"},{"offset":1,"color":"#5c96e8"}]}},
"encoding": {
"x": {"field": "s", "type": "nominal", "sort": null, "scale": {"domain": ["菱形","方形","圆形","正弦形"], "range": [314,1283], "paddingInner": 0.285, "paddingOuter": 0.46}, "axis": null},
"y": {"field": "v", "type": "quantitative", "scale": {"domain": [0, 15000], "range": [796, 91], "nice": false}, "axis": null}}},
{"transform": [{"filter": "datum.s == '正弦形'"}],
"mark": {"type": "bar", "stroke": "#1a1a1a", "strokeWidth": 2, "fill": {"gradient": "linear", "x1": 0, "y1": 0, "x2": 0.345, "y2": 1.19, "stops": [{"offset":0,"color":"#70cf98"},{"offset":0.036,"color":"#70cf98"},{"offset":0.039,"color":"#1a1a1a"},{"offset":0.042,"color":"#70cf98"},{"offset":0.114,"color":"#70cf98"},{"offset":0.117,"color":"#1a1a1a"},{"offset":0.120,"color":"#70cf98"},{"offset":0.192,"color":"#70cf98"},{"offset":0.195,"color":"#1a1a1a"},{"offset":0.198,"color":"#70cf98"},{"offset":0.270,"color":"#70cf98"},{"offset":0.273,"color":"#1a1a1a"},{"offset":0.276,"color":"#70cf98"},{"offset":0.348,"color":"#70cf98"},{"offset":0.351,"color":"#1a1a1a"},{"offset":0.354,"color":"#70cf98"},{"offset":0.426,"color":"#70cf98"},{"offset":0.429,"color":"#1a1a1a"},{"offset":0.432,"color":"#70cf98"},{"offset":0.504,"color":"#70cf98"},{"offset":0.507,"color":"#1a1a1a"},{"offset":0.510,"color":"#70cf98"},{"offset":0.582,"color":"#70cf98"},{"offset":0.585,"color":"#1a1a1a"},{"offset":0.588,"color":"#70cf98"},{"offset":0.660,"color":"#70cf98"},{"offset":0.663,"color":"#1a1a1a"},{"offset":0.666,"color":"#70cf98"},{"offset":0.738,"color":"#70cf98"},{"offset":0.741,"color":"#1a1a1a"},{"offset":0.744,"color":"#70cf98"},{"offset":0.816,"color":"#70cf98"},{"offset":0.819,"color":"#1a1a1a"},{"offset":0.822,"color":"#70cf98"},{"offset":0.894,"color":"#70cf98"},{"offset":0.897,"color":"#1a1a1a"},{"offset":0.900,"color":"#70cf98"},{"offset":0.972,"color":"#70cf98"},{"offset":0.975,"color":"#1a1a1a"},{"offset":0.978,"color":"#70cf98"},{"offset":1,"color":"#70cf98"}]}},
"encoding": {
"x": {"field": "s", "type": "nominal", "sort": null, "scale": {"domain": ["菱形","方形","圆形","正弦形"], "range": [314,1283], "paddingInner": 0.285, "paddingOuter": 0.46}, "axis": null},
"y": {"field": "v", "type": "quantitative", "scale": {"domain": [0, 15000], "range": [796, 91], "nice": false}, "axis": null}}},
{"transform": [{"filter": "datum.s == '正弦形'"}],
"mark": {"type": "bar", "strokeWidth": 0, "fill": {"gradient": "linear", "x1": 0, "y1": 1, "x2": 0.345, "y2": -0.19, "stops": [{"offset":0,"color":"rgba(0,0,0,0)"},{"offset":0.036,"color":"rgba(0,0,0,0)"},{"offset":0.039,"color":"#1a1a1a"},{"offset":0.042,"color":"rgba(0,0,0,0)"},{"offset":0.114,"color":"rgba(0,0,0,0)"},{"offset":0.117,"color":"#1a1a1a"},{"offset":0.120,"color":"rgba(0,0,0,0)"},{"offset":0.192,"color":"rgba(0,0,0,0)"},{"offset":0.195,"color":"#1a1a1a"},{"offset":0.198,"color":"rgba(0,0,0,0)"},{"offset":0.270,"color":"rgba(0,0,0,0)"},{"offset":0.273,"color":"#1a1a1a"},{"offset":0.276,"color":"rgba(0,0,0,0)"},{"offset":0.348,"color":"rgba(0,0,0,0)"},{"offset":0.351,"color":"#1a1a1a"},{"offset":0.354,"color":"rgba(0,0,0,0)"},{"offset":0.426,"color":"rgba(0,0,0,0)"},{"offset":0.429,"color":"#1a1a1a"},{"offset":0.432,"color":"rgba(0,0,0,0)"},{"offset":0.504,"color":"rgba(0,0,0,0)"},{"offset":0.507,"color":"#1a1a1a"},{"offset":0.510,"color":"rgba(0,0,0,0)"},{"offset":0.582,"color":"rgba(0,0,0,0)"},{"offset":0.585,"color":"#1a1a1a"},{"offset":0.588,"color":"rgba(0,0,0,0)"},{"offset":0.660,"color":"rgba(0,0,0,0)"},{"offset":0.663,"color":"#1a1a1a"},{"offset":0.666,"color":"rgba(0,0,0,0)"},{"offset":0.738,"color":"rgba(0,0,0,0)"},{"offset":0.741,"color":"#1a1a1a"},{"offset":0.744,"color":"rgba(0,0,0,0)"},{"offset":0.816,"color":"rgba(0,0,0,0)"},{"offset":0.819,"color":"#1a1a1a"},{"offset":0.822,"color":"rgba(0,0,0,0)"},{"offset":0.894,"color":"rgba(0,0,0,0)"},{"offset":0.897,"color":"#1a1a1a"},{"offset":0.900,"color":"rgba(0,0,0,0)"},{"offset":0.972,"color":"rgba(0,0,0,0)"},{"offset":0.975,"color":"#1a1a1a"},{"offset":0.978,"color":"rgba(0,0,0,0)"},{"offset":1,"color":"rgba(0,0,0,0)"}]}},
"encoding": {
"x": {"field": "s", "type": "nominal", "sort": null, "scale": {"domain": ["菱形","方形","圆形","正弦形"], "range": [314,1283], "paddingInner": 0.285, "paddingOuter": 0.46}, "axis": null},
"y": {"field": "v", "type": "quantitative", "scale": {"domain": [0, 15000], "range": [796, 91], "nice": false}, "axis": null}}},
{"mark": {"type": "errorbar", "ticks": true, "size": 15, "thickness": 3, "color": "#111111"},
"encoding": {
"x": {"field": "s", "type": "nominal", "sort": null, "scale": {"domain": ["菱形","方形","圆形","正弦形"], "range": [314,1283], "paddingInner": 0.285, "paddingOuter": 0.46}, "axis": {"orient": "top", "offset": -91, "ticks": false, "labels": false, "title": null, "domainWidth": 4}},
"y": {"field": "lo", "type": "quantitative", "scale": {"domain": [0, 15000], "range": [796, 91], "nice": false}, "axis": {"orient": "right", "offset": -957, "ticks": false, "labels": false, "title": null, "domainWidth": 4}},
"y2": {"field": "hi"}}},
{"mark": {"type": "text", "dy": -20, "fontSize": 64, "baseline": "alphabetic", "color": "black", "font": "Liberation Serif"},
"encoding": {
"x": {"field": "s", "type": "nominal", "sort": null, "scale": {"domain": ["菱形","方形","圆形","正弦形"], "range": [314,1283], "paddingInner": 0.285, "paddingOuter": 0.46}, "axis": null},
"y": {"field": "hi", "type": "quantitative", "scale": {"domain": [0, 15000], "range": [796, 91], "nice": false}, "axis": {"orient": "left", "offset": -314, "values": [1250,3750,6250,8750,11250,13750], "tickSize": -8, "tickWidth": 3, "labels": false, "domain": false, "title": null}},
"text": {"field": "v", "type": "quantitative", "format": "d"}}}
],
"resolve": {"axis": {"x": "independent", "y": "independent"}}}
],
"resolve": {"scale": {"x": "independent", "y": "independent"}}
},
{
"width": 2240, "height": 1805,
"title": {"text": "(c) G=300 kg/(m²·s), q=25 kW/m²", "orient": "bottom", "anchor": "middle", "frame": "group", "offset": 50},
"layer": [
{"data": {"name": "pc"},
"layer": [
{"mark": {"type": "errorbar", "ticks": true, "size": 38, "thickness": 4},
"encoding": {
"x": {"field": "x", "type": "quantitative", "scale": {"domain": [0, 1], "nice": false}, "axis": {"orient": "bottom", "values": [0.1,0.3,0.5,0.7,0.9], "tickSize": -17, "labels": false, "domain": false, "title": null}},
"y": {"field": "y", "type": "quantitative", "scale": {"domain": [0, 40000], "nice": false, "zero": false}, "axis": {"orient": "left", "values": [2500,7500,12500,17500,22500,27500,32500,37500], "tickSize": -17, "labels": false, "domain": false, "title": null}},
"yError": {"field": "e"},
"color": {"field": "s", "type": "nominal", "scale": {"domain": ["菱形","方形","圆形","正弦形"], "range": ["#555555","#ef4343","#1a6fdf","#3aad6c"]}, "legend": null}}},
{"mark": {"type": "point", "filled": true, "opacity": 1},
"encoding": {
"x": {"field": "x", "type": "quantitative", "scale": {"domain": [0, 1], "nice": false}, "axis": {"orient": "bottom", "values": [0,0.2,0.4,0.6,0.8,1], "tickSize": -34, "labelPadding": 52, "labelExpr": "datum.value == 0 ? '0' : format(datum.value, '.1f')", "title": "干度x", "titlePadding": 37}},
"y": {"field": "y", "type": "quantitative", "scale": {"domain": [0, 40000], "nice": false, "zero": false}, "axis": {"orient": "left", "values": [5000,10000,15000,20000,25000,30000,35000,40000], "format": "d", "tickSize": -34, "labelPadding": 64, "title": "hₜₚ/(W/(m²·K))", "titlePadding": 45}},
"color": {"field": "s", "type": "nominal", "scale": {"domain": ["菱形","方形","圆形","正弦形"], "range": ["#555555","#ef4343","#1a6fdf","#3aad6c"]}, "legend": {"orient": "none", "legendX": 1754, "legendY": 1343, "title": null, "rowPadding": 39}},
"shape": {"field": "s", "type": "nominal", "scale": {"domain": ["菱形","方形","圆形","正弦形"], "range": ["diamond","square","circle","M0,-1L0.225,-0.309L0.951,-0.309L0.363,0.118L0.588,0.809L0,0.382L-0.588,0.809L-0.363,0.118L-0.951,-0.309L-0.225,-0.309Z"]}, "legend": {"orient": "none", "legendX": 1754, "legendY": 1343, "title": null, "rowPadding": 39}},
"size": {"field": "s", "type": "nominal", "scale": {"type": "ordinal", "domain": ["菱形","方形","圆形","正弦形"], "range": [2700,1600,1850,2500]}, "legend": {"orient": "none", "legendX": 1754, "legendY": 1343, "title": null, "rowPadding": 39}}}}
],
"resolve": {"axis": {"x": "independent", "y": "independent"}, "scale": {"color": "independent", "shape": "independent", "size": "independent"}}},
{"data": {"name": "ic"},
"layer": [
{"transform": [{"filter": "datum.s == '菱形'"}],
"mark": {"type": "bar", "fill": "#8d8d8d", "stroke": "#1a1a1a", "strokeWidth": 2},
"encoding": {
"x": {"field": "s", "type": "nominal", "sort": null, "scale": {"domain": ["菱形","方形","圆形","正弦形"], "range": [317,1289], "paddingInner": 0.285, "paddingOuter": 0.46}, "axis": {"orient": "bottom", "offset": -1020, "ticks": false, "labelPadding": 30, "labelAngle": 0, "title": "翅片形状", "titlePadding": 12, "domainWidth": 4}},
"y": {"field": "v", "type": "quantitative", "scale": {"domain": [0, 25000], "range": [785, 56], "nice": false}, "axis": {"orient": "left", "offset": -317, "values": [0,5000,10000,15000,20000,25000], "format": "d", "tickSize": -14, "tickWidth": 3, "labelPadding": 37, "title": "hₜₚ₋ₐᵥₑ/(W/(m²·K))", "titlePadding": 20, "domainWidth": 4}}}},
{"transform": [{"filter": "datum.s == '方形'"}],
"mark": {"type": "bar", "stroke": "#1a1a1a", "strokeWidth": 2, "fill": {"gradient": "linear", "x1": 0, "y1": 0, "x2": 0.307, "y2": 1.18, "stops": [{"offset":0,"color":"#f07676"},{"offset":0.032,"color":"#f07676"},{"offset":0.035,"color":"#1a1a1a"},{"offset":0.038,"color":"#f07676"},{"offset":0.103,"color":"#f07676"},{"offset":0.106,"color":"#1a1a1a"},{"offset":0.109,"color":"#f07676"},{"offset":0.174,"color":"#f07676"},{"offset":0.177,"color":"#1a1a1a"},{"offset":0.180,"color":"#f07676"},{"offset":0.245,"color":"#f07676"},{"offset":0.248,"color":"#1a1a1a"},{"offset":0.251,"color":"#f07676"},{"offset":0.316,"color":"#f07676"},{"offset":0.319,"color":"#1a1a1a"},{"offset":0.322,"color":"#f07676"},{"offset":0.387,"color":"#f07676"},{"offset":0.390,"color":"#1a1a1a"},{"offset":0.393,"color":"#f07676"},{"offset":0.458,"color":"#f07676"},{"offset":0.461,"color":"#1a1a1a"},{"offset":0.464,"color":"#f07676"},{"offset":0.529,"color":"#f07676"},{"offset":0.532,"color":"#1a1a1a"},{"offset":0.535,"color":"#f07676"},{"offset":0.599,"color":"#f07676"},{"offset":0.602,"color":"#1a1a1a"},{"offset":0.605,"color":"#f07676"},{"offset":0.670,"color":"#f07676"},{"offset":0.673,"color":"#1a1a1a"},{"offset":0.676,"color":"#f07676"},{"offset":0.741,"color":"#f07676"},{"offset":0.744,"color":"#1a1a1a"},{"offset":0.747,"color":"#f07676"},{"offset":0.812,"color":"#f07676"},{"offset":0.815,"color":"#1a1a1a"},{"offset":0.818,"color":"#f07676"},{"offset":0.883,"color":"#f07676"},{"offset":0.886,"color":"#1a1a1a"},{"offset":0.889,"color":"#f07676"},{"offset":0.954,"color":"#f07676"},{"offset":0.957,"color":"#1a1a1a"},{"offset":0.960,"color":"#f07676"},{"offset":1,"color":"#f07676"}]}},
"encoding": {
"x": {"field": "s", "type": "nominal", "sort": null, "scale": {"domain": ["菱形","方形","圆形","正弦形"], "range": [317,1289], "paddingInner": 0.285, "paddingOuter": 0.46}, "axis": null},
"y": {"field": "v", "type": "quantitative", "scale": {"domain": [0, 25000], "range": [785, 56], "nice": false}, "axis": null}}},
{"transform": [{"filter": "datum.s == '圆形'"}],
"mark": {"type": "bar", "stroke": "#1a1a1a", "strokeWidth": 2, "fill": {"gradient": "linear", "x1": 0, "y1": 1, "x2": 0.345, "y2": -0.19, "stops": [{"offset":0,"color":"#5c96e8"},{"offset":0.036,"color":"#5c96e8"},{"offset":0.039,"color":"#1a1a1a"},{"offset":0.042,"color":"#5c96e8"},{"offset":0.114,"color":"#5c96e8"},{"offset":0.117,"color":"#1a1a1a"},{"offset":0.120,"color":"#5c96e8"},{"offset":0.192,"color":"#5c96e8"},{"offset":0.195,"color":"#1a1a1a"},{"offset":0.198,"color":"#5c96e8"},{"offset":0.270,"color":"#5c96e8"},{"offset":0.273,"color":"#1a1a1a"},{"offset":0.276,"color":"#5c96e8"},{"offset":0.348,"color":"#5c96e8"},{"offset":0.351,"color":"#1a1a1a"},{"offset":0.354,"color":"#5c96e8"},{"offset":0.426,"color":"#5c96e8"},{"offset":0.429,"color":"#1a1a1a"},{"offset":0.432,"color":"#5c96e8"},{"offset":0.504,"color":"#5c96e8"},{"offset":0.507,"color":"#1a1a1a"},{"offset":0.510,"color":"#5c96e8"},{"offset":0.582,"color":"#5c96e8"},{"offset":0.585,"color":"#1a1a1a"},{"offset":0.588,"color":"#5c96e8"},{"offset":0.660,"color":"#5c96e8"},{"offset":0.663,"color":"#1a1a1a"},{"offset":0.666,"color":"#5c96e8"},{"offset":0.738,"color":"#5c96e8"},{"offset":0.741,"color":"#1a1a1a"},{"offset":0.744,"color":"#5c96e8"},{"offset":0.816,"color":"#5c96e8"},{"offset":0.819,"color":"#1a1a1a"},{"offset":0.822,"color":"#5c96e8"},{"offset":0.894,"color":"#5c96e8"},{"offset":0.897,"color":"#1a1a1a"},{"offset":0.900,"color":"#5c96e8"},{"offset":0.972,"color":"#5c96e8"},{"offset":0.975,"color":"#1a1a1a"},{"offset":0.978,"color":"#5c96e8"},{"offset":1,"color":"#5c96e8"}]}},
"encoding": {
"x": {"field": "s", "type": "nominal", "sort": null, "scale": {"domain": ["菱形","方形","圆形","正弦形"], "range": [317,1289], "paddingInner": 0.285, "paddingOuter": 0.46}, "axis": null},
"y": {"field": "v", "type": "quantitative", "scale": {"domain": [0, 25000], "range": [785, 56], "nice": false}, "axis": null}}},
{"transform": [{"filter": "datum.s == '正弦形'"}],
"mark": {"type": "bar", "stroke": "#1a1a1a", "strokeWidth": 2, "fill": {"gradient": "linear", "x1": 0, "y1": 0, "x2": 0.345, "y2": 1.19, "stops": [{"offset":0,"color":"#70cf98"},{"offset":0.036,"color":"#70cf98"},{"offset":0.039,"color":"#1a1a1a"},{"offset":0.042,"color":"#70cf98"},{"offset":0.114,"color":"#70cf98"},{"offset":0.117,"color":"#1a1a1a"},{"offset":0.120,"color":"#70cf98"},{"offset":0.192,"color":"#70cf98"},{"offset":0.195,"color":"#1a1a1a"},{"offset":0.198,"color":"#70cf98"},{"offset":0.270,"color":"#70cf98"},{"offset":0.273,"color":"#1a1a1a"},{"offset":0.276,"color":"#70cf98"},{"offset":0.348,"color":"#70cf98"},{"offset":0.351,"color":"#1a1a1a"},{"offset":0.354,"color":"#70cf98"},{"offset":0.426,"color":"#70cf98"},{"offset":0.429,"color":"#1a1a1a"},{"offset":0.432,"color":"#70cf98"},{"offset":0.504,"color":"#70cf98"},{"offset":0.507,"color":"#1a1a1a"},{"offset":0.510,"color":"#70cf98"},{"offset":0.582,"color":"#70cf98"},{"offset":0.585,"color":"#1a1a1a"},{"offset":0.588,"color":"#70cf98"},{"offset":0.660,"color":"#70cf98"},{"offset":0.663,"color":"#1a1a1a"},{"offset":0.666,"color":"#70cf98"},{"offset":0.738,"color":"#70cf98"},{"offset":0.741,"color":"#1a1a1a"},{"offset":0.744,"color":"#70cf98"},{"offset":0.816,"color":"#70cf98"},{"offset":0.819,"color":"#1a1a1a"},{"offset":0.822,"color":"#70cf98"},{"offset":0.894,"color":"#70cf98"},{"offset":0.897,"color":"#1a1a1a"},{"offset":0.900,"color":"#70cf98"},{"offset":0.972,"color":"#70cf98"},{"offset":0.975,"color":"#1a1a1a"},{"offset":0.978,"color":"#70cf98"},{"offset":1,"color":"#70cf98"}]}},
"encoding": {
"x": {"field": "s", "type": "nominal", "sort": null, "scale": {"domain": ["菱形","方形","圆形","正弦形"], "range": [317,1289], "paddingInner": 0.285, "paddingOuter": 0.46}, "axis": null},
"y": {"field": "v", "type": "quantitative", "scale": {"domain": [0, 25000], "range": [785, 56], "nice": false}, "axis": null}}},
{"transform": [{"filter": "datum.s == '正弦形'"}],
"mark": {"type": "bar", "strokeWidth": 0, "fill": {"gradient": "linear", "x1": 0, "y1": 1, "x2": 0.345, "y2": -0.19, "stops": [{"offset":0,"color":"rgba(0,0,0,0)"},{"offset":0.036,"color":"rgba(0,0,0,0)"},{"offset":0.039,"color":"#1a1a1a"},{"offset":0.042,"color":"rgba(0,0,0,0)"},{"offset":0.114,"color":"rgba(0,0,0,0)"},{"offset":0.117,"color":"#1a1a1a"},{"offset":0.120,"color":"rgba(0,0,0,0)"},{"offset":0.192,"color":"rgba(0,0,0,0)"},{"offset":0.195,"color":"#1a1a1a"},{"offset":0.198,"color":"rgba(0,0,0,0)"},{"offset":0.270,"color":"rgba(0,0,0,0)"},{"offset":0.273,"color":"#1a1a1a"},{"offset":0.276,"color":"rgba(0,0,0,0)"},{"offset":0.348,"color":"rgba(0,0,0,0)"},{"offset":0.351,"color":"#1a1a1a"},{"offset":0.354,"color":"rgba(0,0,0,0)"},{"offset":0.426,"color":"rgba(0,0,0,0)"},{"offset":0.429,"color":"#1a1a1a"},{"offset":0.432,"color":"rgba(0,0,0,0)"},{"offset":0.504,"color":"rgba(0,0,0,0)"},{"offset":0.507,"color":"#1a1a1a"},{"offset":0.510,"color":"rgba(0,0,0,0)"},{"offset":0.582,"color":"rgba(0,0,0,0)"},{"offset":0.585,"color":"#1a1a1a"},{"offset":0.588,"color":"rgba(0,0,0,0)"},{"offset":0.660,"color":"rgba(0,0,0,0)"},{"offset":0.663,"color":"#1a1a1a"},{"offset":0.666,"color":"rgba(0,0,0,0)"},{"offset":0.738,"color":"rgba(0,0,0,0)"},{"offset":0.741,"color":"#1a1a1a"},{"offset":0.744,"color":"rgba(0,0,0,0)"},{"offset":0.816,"color":"rgba(0,0,0,0)"},{"offset":0.819,"color":"#1a1a1a"},{"offset":0.822,"color":"rgba(0,0,0,0)"},{"offset":0.894,"color":"rgba(0,0,0,0)"},{"offset":0.897,"color":"#1a1a1a"},{"offset":0.900,"color":"rgba(0,0,0,0)"},{"offset":0.972,"color":"rgba(0,0,0,0)"},{"offset":0.975,"color":"#1a1a1a"},{"offset":0.978,"color":"rgba(0,0,0,0)"},{"offset":1,"color":"rgba(0,0,0,0)"}]}},
"encoding": {
"x": {"field": "s", "type": "nominal", "sort": null, "scale": {"domain": ["菱形","方形","圆形","正弦形"], "range": [317,1289], "paddingInner": 0.285, "paddingOuter": 0.46}, "axis": null},
"y": {"field": "v", "type": "quantitative", "scale": {"domain": [0, 25000], "range": [785, 56], "nice": false}, "axis": null}}},
{"mark": {"type": "errorbar", "ticks": true, "size": 15, "thickness": 3, "color": "#111111"},
"encoding": {
"x": {"field": "s", "type": "nominal", "sort": null, "scale": {"domain": ["菱形","方形","圆形","正弦形"], "range": [317,1289], "paddingInner": 0.285, "paddingOuter": 0.46}, "axis": {"orient": "top", "offset": -56, "ticks": false, "labels": false, "title": null, "domainWidth": 4}},
"y": {"field": "lo", "type": "quantitative", "scale": {"domain": [0, 25000], "range": [785, 56], "nice": false}, "axis": {"orient": "right", "offset": -951, "ticks": false, "labels": false, "title": null, "domainWidth": 4}},
"y2": {"field": "hi"}}},
{"mark": {"type": "text", "dy": -20, "fontSize": 64, "baseline": "alphabetic", "color": "black", "font": "Liberation Serif"},
"encoding": {
"x": {"field": "s", "type": "nominal", "sort": null, "scale": {"domain": ["菱形","方形","圆形","正弦形"], "range": [317,1289], "paddingInner": 0.285, "paddingOuter": 0.46}, "axis": null},
"y": {"field": "hi", "type": "quantitative", "scale": {"domain": [0, 25000], "range": [785, 56], "nice": false}, "axis": {"orient": "left", "offset": -317, "values": [2500,7500,12500,17500,22500], "tickSize": -8, "tickWidth": 3, "labels": false, "domain": false, "title": null}},
"text": {"field": "v", "type": "quantitative", "format": "d"}}}
],
"resolve": {"axis": {"x": "independent", "y": "independent"}}}
],
"resolve": {"scale": {"x": "independent", "y": "independent"}}
}
],
"spacing": 74,
"resolve": {"scale": {"color": "independent", "shape": "independent", "size": "independent"}},
"config": {
"font": "Liberation Serif, Noto Sans CJK SC",
"view": {"stroke": "black", "strokeWidth": 4.5},
"axis": {"grid": false, "labelFont": "Liberation Serif, Noto Sans CJK SC", "labelFontSize": 64, "labelColor": "black", "titleFont": "Liberation Serif, Noto Sans CJK SC", "titleFontSize": 64, "titleFontWeight": "normal", "titleColor": "black", "domainColor": "black", "domainWidth": 4.5, "tickColor": "black", "tickWidth": 4.5, "labelOverlap": false, "labelFlush": false, "labelLimit": 0},
"axisQuantitative": {"labelFont": "Liberation Serif"},
"title": {"font": "Liberation Serif, Noto Sans CJK SC", "fontSize": 62, "fontWeight": "normal", "color": "black"},
"legend": {"labelFont": "Liberation Serif, Noto Sans CJK SC", "labelFontSize": 64, "labelColor": "black", "labelOffset": 31, "padding": 0, "symbolStrokeWidth": 0, "labelLimit": 0}
}
}
